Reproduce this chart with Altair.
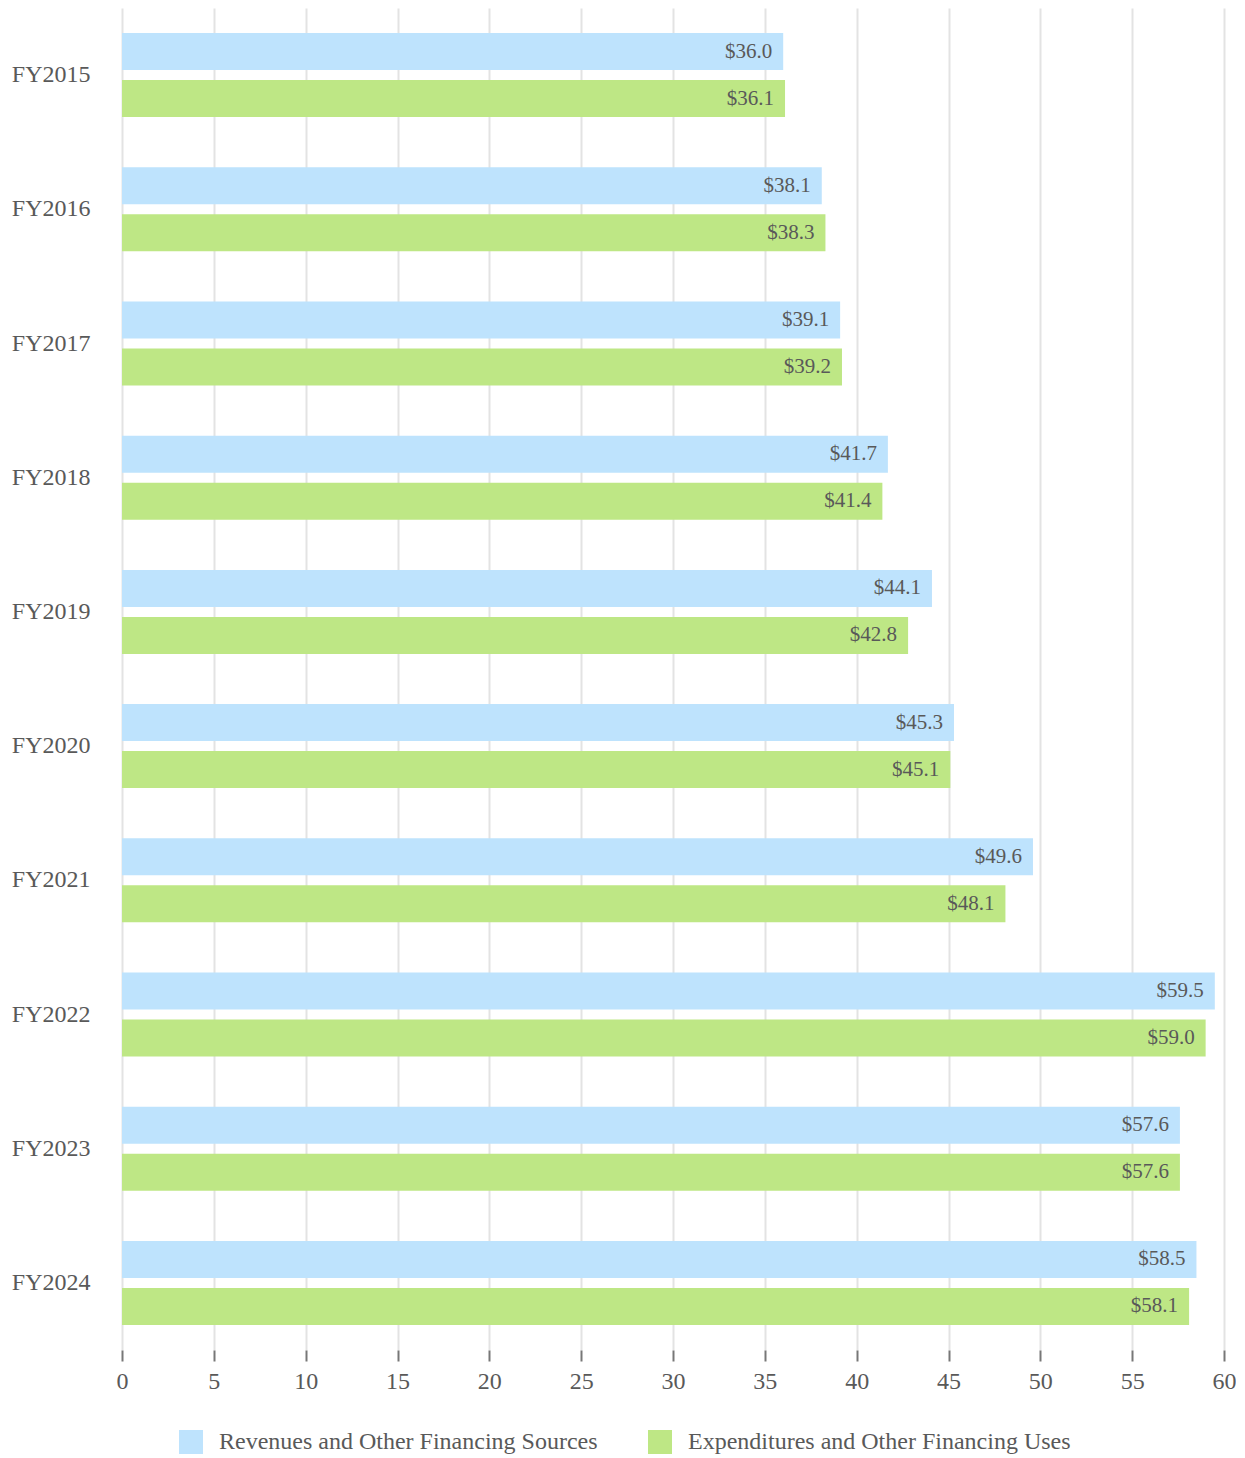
import altair as alt
import pandas as pd

years = ["FY2015", "FY2016", "FY2017", "FY2018", "FY2019",
         "FY2020", "FY2021", "FY2022", "FY2023", "FY2024"]
revenues = [36.0, 38.1, 39.1, 41.7, 44.1, 45.3, 49.6, 59.5, 57.6, 58.5]
expenditures = [36.1, 38.3, 39.2, 41.4, 42.8, 45.1, 48.1, 59.0, 57.6, 58.1]
series = ["Revenues and Other Financing Sources", "Expenditures and Other Financing Uses"]
colors = ["#bee3fd", "#bee785"]
x_ticks = list(range(0, 61, 5))

rows = []
for i, y in enumerate(years):
    rows.append({"year": y, "series": series[0], "value": revenues[i]})
    rows.append({"year": y, "series": series[1], "value": expenditures[i]})
df = pd.DataFrame(rows)
df["label"] = df["value"].map(lambda v: f"${v:.1f}")

FONT = "Liberation Serif"
TXT = "#595959"

y_enc = alt.Y("year:N", sort=years,
              scale=alt.Scale(paddingInner=0.374, paddingOuter=0.187),
              axis=alt.Axis(title=None, domain=False, ticks=False, grid=False,
                            labelFont=FONT, labelFontSize=24, labelColor=TXT,
                            labelPadding=32, minExtent=114, maxExtent=114))
yoff = alt.YOffset("series:N", sort=series,
                   scale=alt.Scale(paddingInner=0.213, paddingOuter=0))
x_enc = alt.X("value:Q",
              scale=alt.Scale(domain=[0, 60], nice=False),
              axis=alt.Axis(title=None, values=x_ticks, domain=False,
                            grid=True, gridColor="#e3e3e3", gridWidth=2,
                            ticks=True, tickColor="#777777", tickSize=11, tickWidth=2,
                            labelFont=FONT, labelFontSize=24, labelColor=TXT,
                            labelPadding=8, labelFlush=False))

bars = alt.Chart(df).mark_bar().encode(
    x=x_enc,
    y=y_enc,
    yOffset=yoff,
    color=alt.Color("series:N", sort=series,
                    scale=alt.Scale(domain=series, range=colors),
                    legend=alt.Legend(title=None, orient="none", direction="horizontal",
                                      legendX=57, legendY=1422,
                                      symbolType="square", symbolSize=576,
                                      symbolStrokeWidth=0,
                                      labelFont=FONT, labelFontSize=24, labelColor=TXT,
                                      labelLimit=1000,
                                      labelOffset=16, columnPadding=50, padding=0)),
)

labels = alt.Chart(df).mark_text(align="right", baseline="middle", dx=-11,
                                 font=FONT, fontSize=21, color=TXT).encode(
    x=alt.X("value:Q"),
    y=alt.Y("year:N", sort=years),
    yOffset=alt.YOffset("series:N", sort=series),
    text="label:N",
)

chart = (bars + labels).properties(width=1102, height=1342, padding=0).configure_view(stroke=None)

chart.save("out.html", embed_options={"renderer": "svg", "actions": False})
